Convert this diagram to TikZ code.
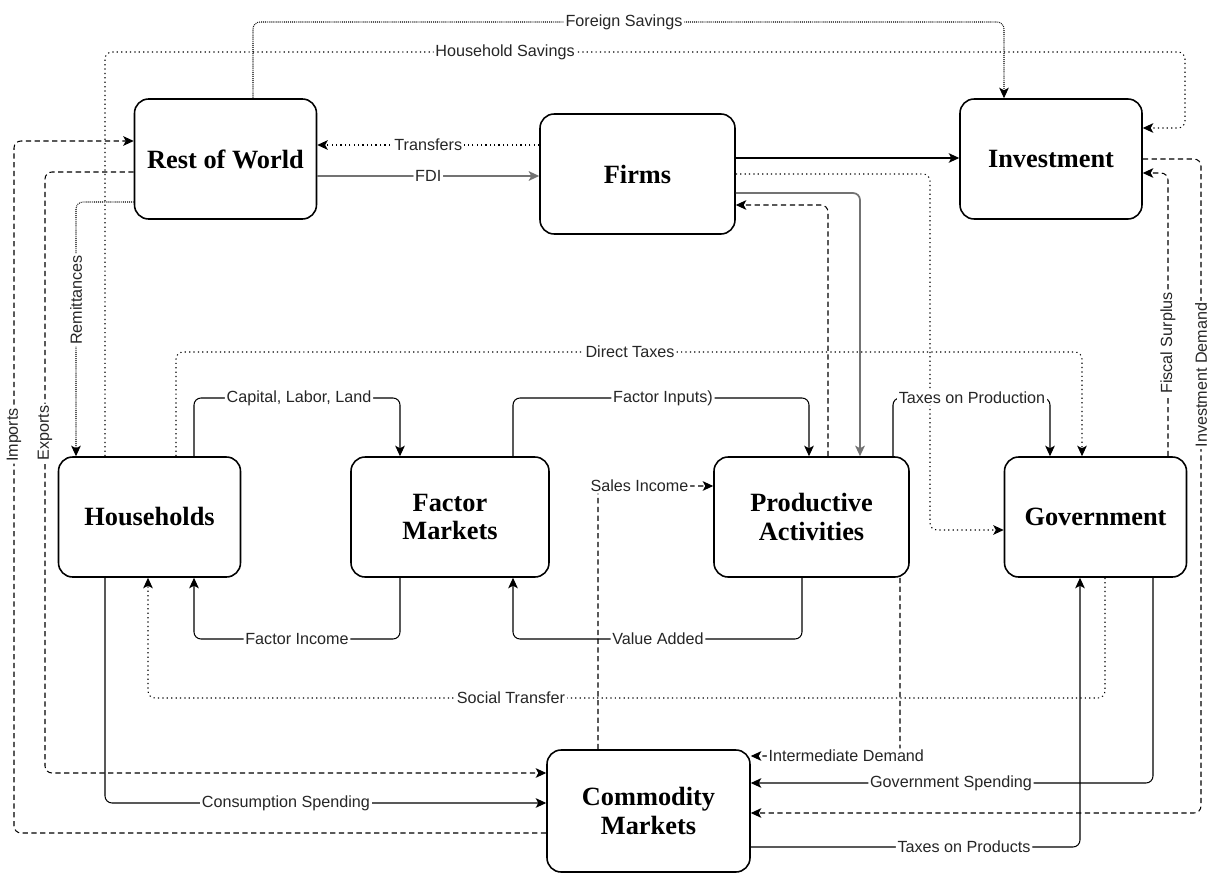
\documentclass[tikz,border=0pt]{standalone}
\usepackage{fontspec}
\setsansfont{Liberation Sans}
\newfontfamily\boxfont{Liberation Serif}
\usetikzlibrary{positioning, arrows.meta}

\begin{document}
\begin{tikzpicture}[
    x=0.02cm, y=-0.02cm,
    % boxes of the economy
    box/.style={rectangle, draw, rounded corners=8pt, line width=0.9pt, align=center, minimum width=3.64cm, minimum height=2.4cm, font=\boxfont\bfseries\fontsize{15}{16.5}\selectfont},
    arr/.style={-{Stealth[length=6pt, width=5.5pt, inset=1.5pt]}, line width=0.6pt, rounded corners=4pt},
    lbl/.style={font=\sffamily\fontsize{9.2}{10}\selectfont, text=black!85, fill=white, inner sep=1pt},
    dotline/.style={dash pattern=on 0.7pt off 1.8pt},
    fineline/.style={dash pattern=on 0.5pt off 0.6pt},
    dashline/.style={dash pattern=on 3pt off 2pt},
    greyline/.style={draw=black!55, line width=1pt}
]
    \useasboundingbox (0,0) rectangle (1221,875);

    % --- Core Nodes ---
    \node[box] (row) at (225.5,159) {Rest of World};
    \node[box, minimum width=3.9cm] (firms) at (637.5,174) {Firms};
    \node[box] (inv) at (1051,159) {Investment};
    \node[box] (hh) at (149.5,517) {Households};
    \node[box, minimum width=3.96cm] (fm) at (450,517) {Factor\\Markets};
    \node[box, minimum width=3.9cm] (pa) at (811.5,517) {Productive\\Activities};
    \node[box] (gov) at (1095.5,517) {Government};
    \node[box, minimum width=4.06cm, minimum height=2.44cm] (cm) at (648.5,811) {Commodity\\Markets};

    % --- Top Loops ---
    \draw[arr, fineline] (row.north -| 253,0) |- (624,22) node[lbl] {Foreign Savings} -| (inv.north -| 1004,0);
    \draw[arr, dotline] (hh.north -| 105,0) |- (505,52) node[lbl] {Household Savings} -| (1185,128) -- (inv.east |- 0,128);

    % --- Rest of World and Firms ---
    \draw[arr, dotline] (firms.west |- 0,145) -- node[lbl] {Transfers} (row.east |- 0,145);
    \draw[arr, greyline] (row.east |- 0,176) -- node[lbl] {FDI} (firms.west |- 0,176);
    \draw[arr] (firms.east |- 0,158) -- (inv.west |- 0,158);
    \draw[arr, dashline] (pa.north -| 828,0) |- (firms.east |- 0,205);
    \draw[arr, greyline] (firms.east |- 0,193) -| (pa.north -| 860,0);
    \draw[arr, dotline] (firms.east |- 0,174) -| (930,530) -- (gov.west |- 0,530);

    % --- Left Side Flows ---
    \draw[arr, dashline] (cm.west |- 0,833) -| (14,435) node[lbl, rotate=90] {Imports} |- (row.west |- 0,141);
    \draw[arr, dashline] (row.west |- 0,172) -| (45,433) node[lbl, rotate=90] {Exports} |- (cm.west |- 0,773);
    \draw[arr, fineline] (row.west |- 0,202) -| (76,300) node[lbl, rotate=90] {Remittances} -- (hh.north -| 76,0);

    % --- Middle Row ---
    \draw[arr, dotline] (hh.north -| 176,0) |- (630,352) node[lbl] {Direct Taxes} -| (gov.north -| 1082,0);
    \draw[arr] (hh.north -| 194,0) |- (299,398) node[lbl] {Capital, Labor, Land} -| (fm.north -| 400,0);
    \draw[arr] (fm.north -| 513,0) |- (663,398) node[lbl] {Factor Inputs)} -| (pa.north -| 809,0);
    \draw[arr] (pa.north -| 893,0) |- (972,398) node[lbl] {Taxes on Production} -| (gov.north -| 1050,0);
    \draw[arr, dashline] (cm.north -| 598,0) |- node[lbl, pos=0.68] {Sales Income} (pa.west |- 0,486);

    % --- Right Side Flows ---
    \draw[arr, dashline] (gov.north -| 1168,0) -- (1168,343) node[lbl, rotate=90] {Fiscal Surplus} |- (inv.east |- 0,173);
    \draw[arr, dashline] (inv.east |- 0,159) -| (1201,375) node[lbl, rotate=90] {Investment Demand} |- (cm.east |- 0,813);

    % --- Lower Flows ---
    \draw[arr, dotline] (gov.south -| 1105,0) |- (511,698) node[lbl] {Social Transfer} -| (hh.south -| 148,0);
    \draw[arr] (fm.south -| 400,0) |- (297,639) node[lbl] {Factor Income} -| (hh.south -| 194,0);
    \draw[arr] (pa.south -| 802,0) |- (658,639) node[lbl] {Value Added} -| (fm.south -| 513,0);
    \draw[arr, dashline] (pa.south -| 900,0) |- node[lbl, pos=0.68] {Intermediate Demand} (cm.east |- 0,756);
    \draw[arr] (gov.south -| 1153,0) |- (951,783) node[lbl] {Government Spending} -- (cm.east |- 0,783);
    \draw[arr] (cm.east |- 0,847) -- (964,847) node[lbl] {Taxes on Products} -| (gov.south -| 1080,0);
    \draw[arr] (hh.south -| 105,0) |- (286,803) node[lbl] {Consumption Spending} -- (cm.west |- 0,803);

\end{tikzpicture}
\end{document}
